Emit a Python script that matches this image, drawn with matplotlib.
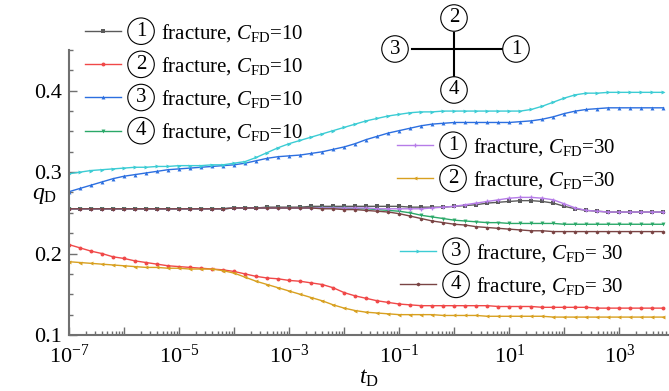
import matplotlib as mpl
import matplotlib.pyplot as plt
import numpy as np
from matplotlib.lines import Line2D
from matplotlib.ticker import MultipleLocator, LogLocator, NullFormatter


#-------------------------------------------------------------------------------
# Data
#-------------------------------------------------------------------------------

#Exponents of the dimensionless time t_D
log_t = [-7.0, -6.8, -6.6, -6.4, -6.2, -6.0, -5.8, -5.6, -5.4, -5.2,
         -5.0, -4.8, -4.6, -4.4, -4.2, -4.0, -3.8, -3.6, -3.4, -3.2,
         -3.0, -2.8, -2.6, -2.4, -2.2, -2.0, -1.8, -1.6, -1.4, -1.2,
         -1.0, -0.8, -0.6, -0.4, -0.2, 0.0, 0.2, 0.4, 0.6, 0.8,
         1.0, 1.2, 1.4, 1.6, 1.8, 2.0, 2.2, 2.4, 2.6, 2.8,
         3.0, 3.2, 3.4, 3.6, 3.8]

#C_FD = 10
q1_cfd10 = [0.255, 0.255, 0.255, 0.255, 0.255, 0.255, 0.255, 0.255, 0.255, 0.255,
            0.255, 0.255, 0.255, 0.255, 0.255, 0.256, 0.256, 0.256, 0.257, 0.257,
            0.257, 0.257, 0.258, 0.258, 0.258, 0.258, 0.258, 0.258, 0.258, 0.258,
            0.258, 0.257, 0.257, 0.257, 0.257, 0.258, 0.259, 0.260, 0.262, 0.263,
            0.264, 0.265, 0.265, 0.264, 0.262, 0.258, 0.255, 0.253, 0.252, 0.251,
            0.251, 0.251, 0.251, 0.251, 0.251]
q2_cfd10 = [0.211, 0.207, 0.203, 0.200, 0.196, 0.194, 0.191, 0.189, 0.187, 0.185,
            0.184, 0.183, 0.182, 0.181, 0.180, 0.178, 0.175, 0.172, 0.170, 0.169,
            0.167, 0.166, 0.164, 0.162, 0.158, 0.152, 0.148, 0.145, 0.142, 0.140,
            0.138, 0.137, 0.136, 0.136, 0.136, 0.136, 0.136, 0.136, 0.136, 0.135,
            0.135, 0.135, 0.135, 0.134, 0.134, 0.134, 0.134, 0.134, 0.133, 0.133,
            0.133, 0.133, 0.133, 0.133, 0.133]
q3_cfd10 = [0.276, 0.280, 0.284, 0.288, 0.292, 0.295, 0.297, 0.299, 0.301, 0.303,
            0.304, 0.305, 0.306, 0.307, 0.308, 0.309, 0.311, 0.314, 0.317, 0.319,
            0.320, 0.321, 0.323, 0.325, 0.328, 0.331, 0.335, 0.340, 0.344, 0.348,
            0.351, 0.354, 0.357, 0.359, 0.360, 0.361, 0.361, 0.361, 0.361, 0.361,
            0.361, 0.362, 0.363, 0.365, 0.368, 0.372, 0.375, 0.377, 0.378, 0.379,
            0.379, 0.379, 0.379, 0.379, 0.379]
q4_cfd10 = [0.255, 0.255, 0.255, 0.255, 0.255, 0.255, 0.255, 0.255, 0.255, 0.255,
            0.255, 0.255, 0.255, 0.255, 0.255, 0.256, 0.256, 0.256, 0.256, 0.256,
            0.256, 0.256, 0.256, 0.256, 0.256, 0.256, 0.255, 0.255, 0.254, 0.253,
            0.252, 0.250, 0.247, 0.245, 0.243, 0.241, 0.240, 0.239, 0.238, 0.238,
            0.237, 0.237, 0.237, 0.237, 0.237, 0.236, 0.236, 0.236, 0.236, 0.236,
            0.236, 0.236, 0.236, 0.236, 0.236]

#C_FD = 30
q1_cfd30 = [0.255, 0.255, 0.255, 0.255, 0.255, 0.255, 0.255, 0.255, 0.255, 0.255,
            0.255, 0.255, 0.255, 0.255, 0.255, 0.256, 0.256, 0.256, 0.256, 0.256,
            0.256, 0.256, 0.256, 0.256, 0.256, 0.256, 0.256, 0.256, 0.255, 0.255,
            0.255, 0.255, 0.255, 0.256, 0.257, 0.258, 0.260, 0.262, 0.264, 0.266,
            0.268, 0.269, 0.269, 0.268, 0.266, 0.261, 0.256, 0.253, 0.252, 0.251,
            0.251, 0.251, 0.251, 0.251, 0.251]
q2_cfd30 = [0.190, 0.189, 0.188, 0.187, 0.186, 0.185, 0.184, 0.183, 0.183, 0.182,
            0.182, 0.181, 0.181, 0.181, 0.179, 0.176, 0.171, 0.166, 0.162, 0.158,
            0.154, 0.150, 0.146, 0.142, 0.137, 0.133, 0.130, 0.128, 0.127, 0.126,
            0.125, 0.125, 0.125, 0.125, 0.124, 0.124, 0.124, 0.124, 0.123, 0.123,
            0.123, 0.123, 0.123, 0.123, 0.122, 0.122, 0.122, 0.122, 0.122, 0.122,
            0.122, 0.122, 0.122, 0.122, 0.122]
q3_cfd30 = [0.298, 0.300, 0.302, 0.303, 0.304, 0.305, 0.306, 0.306, 0.307, 0.307,
            0.308, 0.308, 0.308, 0.309, 0.309, 0.311, 0.313, 0.318, 0.324, 0.330,
            0.335, 0.339, 0.343, 0.347, 0.351, 0.355, 0.359, 0.363, 0.366, 0.369,
            0.371, 0.373, 0.374, 0.374, 0.375, 0.375, 0.375, 0.375, 0.375, 0.375,
            0.375, 0.375, 0.377, 0.381, 0.386, 0.391, 0.395, 0.397, 0.397, 0.398,
            0.398, 0.398, 0.398, 0.398, 0.398]
q4_cfd30 = [0.255, 0.255, 0.255, 0.255, 0.255, 0.255, 0.255, 0.255, 0.255, 0.255,
            0.255, 0.255, 0.255, 0.255, 0.255, 0.256, 0.256, 0.256, 0.256, 0.256,
            0.256, 0.256, 0.256, 0.255, 0.255, 0.254, 0.254, 0.253, 0.252, 0.251,
            0.249, 0.246, 0.243, 0.240, 0.238, 0.236, 0.235, 0.233, 0.232, 0.231,
            0.230, 0.229, 0.228, 0.228, 0.227, 0.227, 0.227, 0.227, 0.227, 0.227,
            0.227, 0.227, 0.227, 0.227, 0.227]

fracture_ids = ['1', '2', '3', '4']


#-------------------------------------------------------------------------------
# Styles
#-------------------------------------------------------------------------------

mpl.rcParams['font.family'] = 'serif'
mpl.rcParams['font.serif'] = ['Liberation Serif', 'DejaVu Serif']
mpl.rcParams['mathtext.fontset'] = 'custom'
mpl.rcParams['mathtext.rm'] = 'Liberation Serif'
mpl.rcParams['mathtext.it'] = 'Liberation Serif:italic'
mpl.rcParams['font.size'] = 15

axis_gray = '#707070'

colors_10 = ['#5a5a5a', '#f04848', '#2c6fe0', '#2aa868']
colors_30 = ['#b67ce8', '#d8a020', '#3cccd4', '#7a4444']
markers_10 = ['s', 'o', '^', 'v']
markers_30 = ['P', '<', '>', 'h']

W, H = 669.0, 391.0


#-------------------------------------------------------------------------------
# Plot
#-------------------------------------------------------------------------------

fig = plt.figure(figsize=(6.69, 3.91), dpi=100)
ax = fig.add_axes([69/W, 56/H, 600/W, 285/H])

t_d = 10.0 ** np.array(log_t)
series_10 = [q1_cfd10, q2_cfd10, q3_cfd10, q4_cfd10]
series_30 = [q1_cfd30, q2_cfd30, q3_cfd30, q4_cfd30]

lines_10 = []
lines_30 = []
for i in range(4):
    l, = ax.plot(t_d, series_10[i], color=colors_10[i], marker=markers_10[i],
                 markersize=2.8, linewidth=1.0, markeredgewidth=0)
    lines_10.append(l)
for i in range(4):
    l, = ax.plot(t_d, series_30[i], color=colors_30[i], marker=markers_30[i],
                 markersize=2.8, linewidth=1.0, markeredgewidth=0)
    lines_30.append(l)

#Axes ranges
ax.set_xscale('log')
ax.set_xlim(1e-7, 10 ** 3.9)
ax.set_ylim(0.1, 0.45)

#Ticks
ax.set_xticks([10.0 ** k for k in range(-7, 4)])
ax.set_xticklabels(['$10^{%d}$' % k if k % 2 != 0 else '' for k in range(-7, 4)])
ax.xaxis.set_minor_locator(LogLocator(base=10, subs=np.arange(2, 10), numticks=30))
ax.xaxis.set_minor_formatter(NullFormatter())
ax.set_yticks([0.1, 0.2, 0.3, 0.4])
ax.set_yticklabels(['0.1', '0.2', '0.3', '0.4'])
ax.yaxis.set_minor_locator(MultipleLocator(0.025))
ax.tick_params(which='both', direction='in', color=axis_gray, width=1.0)
ax.tick_params(axis='y', which='major', length=6, labelsize=16, pad=5)
ax.tick_params(axis='x', which='major', length=6, labelsize=16, pad=7)
ax.tick_params(which='minor', length=3)

#Spines
for s in ['top', 'right']:
    ax.spines[s].set_visible(False)
for s in ['left', 'bottom']:
    ax.spines[s].set_color(axis_gray)
    ax.spines[s].set_linewidth(1.5)

#Axis labels
ax.set_xlabel('$t_{\\mathrm{D}}$', fontsize=17, labelpad=0)
ax.set_ylabel('$q_{\\mathrm{D}}$', fontsize=17, rotation=0, ha='center', va='center')
ax.yaxis.set_label_coords(-0.04, 0.49)


#-------------------------------------------------------------------------------
# Legends with circled fracture numbers
#-------------------------------------------------------------------------------

def make_legend(handles, cfd, anchor):
    labels = ['fracture, $C_{\\mathrm{FD}}$' + cfd for _ in handles]
    leg = ax.legend(handles, labels, loc='upper left', bbox_to_anchor=anchor,
                    bbox_transform=fig.transFigure, frameon=False, borderpad=0,
                    borderaxespad=0, handlelength=1.75, handletextpad=1.9,
                    labelspacing=0.54, fontsize=15)
    return leg

leg1 = make_legend(lines_10, '=10', (85/W, 1 - 22/H))
ax.add_artist(leg1)
leg2 = make_legend(lines_30[:2], '=30', (397/W, 1 - 136/H))
ax.add_artist(leg2)
leg3 = make_legend(lines_30[2:], '= 30', (400/W, 1 - 242/H))

#Place circled numbers in front of each legend text
fig.canvas.draw()
renderer = fig.canvas.get_renderer()
for leg, ids in [(leg1, fracture_ids), (leg2, fracture_ids[:2]), (leg3, fracture_ids[2:])]:
    for t, n in zip(leg.get_texts(), ids):
        bb = t.get_window_extent(renderer)
        cx = bb.x0 - 20
        cy = bb.y0 + 0.58 * bb.height
        fig.text(cx/W, cy/H, n, ha='center', va='center', fontsize=15,
                 bbox=dict(boxstyle='circle,pad=0.18', fc='none', ec='black', lw=0.8))


#-------------------------------------------------------------------------------
# Fracture layout sketch
#-------------------------------------------------------------------------------

fig.add_artist(Line2D([412/W, 502/W], [1 - 49/H, 1 - 49/H], color='black', lw=1.5,
                      transform=fig.transFigure))
fig.add_artist(Line2D([454/W, 454/W], [1 - 33/H, 1 - 77/H], color='black', lw=1.5,
                      transform=fig.transFigure))
sketch_pos = {'1': (516, 49), '2': (454, 18), '3': (395, 49), '4': (454, 90)}
for n in fracture_ids:
    px, py = sketch_pos[n]
    fig.text(px/W, 1 - py/H, n, ha='center', va='center', fontsize=15,
             bbox=dict(boxstyle='circle,pad=0.18', fc='white', ec='black', lw=0.8))

plt.savefig('out.png', dpi=100)
